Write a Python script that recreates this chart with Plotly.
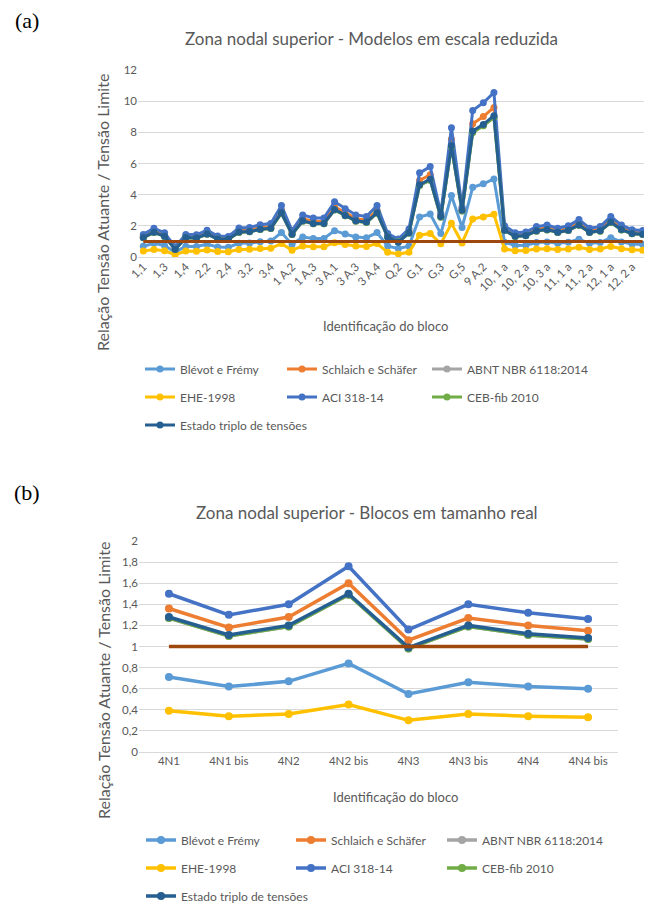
import plotly.graph_objects as go

# ---------------- data: (a) reduced-scale models ----------------
blocks_a = [
    "1,1", "1,2", "1,3", "1,3 b", "1,4", "2,1", "2,2", "2,3", "2,4", "3,1",
    "3,2", "3,3", "3,4", "1 A,1", "1 A,2", "1 A,2 b", "1 A,3", "1 A,4", "3 A,1", "3 A,2",
    "3 A,3", "3 A,3 b", "3 A,4", "Q,1", "Q,2", "Q,3", "G,1", "G,2", "G,3", "G,4",
    "G,5", "9 A,1", "9 A,2", "9 A,3", "10, 1 a", "10, 1 b", "10, 2 a", "10, 2 b", "10, 3 a", "10, 3 b",
    "11, 1 a", "11, 1 b", "11, 2 a", "11, 2 b", "12, 1 a", "12, 1 b", "12, 2 a", "12, 2 b",
]
blevot_a = [0.69, 0.88, 0.74, 0.31, 0.69, 0.67, 0.82, 0.64, 0.63, 0.88,
            0.90, 0.98, 1.02, 1.57, 0.81, 1.28, 1.19, 1.19, 1.69, 1.47,
            1.28, 1.24, 1.57, 0.70, 0.55, 0.70, 2.57, 2.76, 1.50, 3.94,
            1.90, 4.47, 4.70, 5.01, 0.95, 0.74, 0.76, 0.93, 0.97, 0.88,
            0.95, 1.14, 0.88, 0.93, 1.24, 0.97, 0.83, 0.81]
schlaich_a = [1.32, 1.68, 1.41, 0.59, 1.32, 1.29, 1.57, 1.23, 1.20, 1.69,
              1.73, 1.88, 1.96, 3.00, 1.55, 2.46, 2.28, 2.28, 3.23, 2.82,
              2.46, 2.37, 3.00, 1.37, 1.05, 1.64, 4.91, 5.28, 2.70, 7.55,
              3.10, 8.55, 9.01, 9.60, 1.82, 1.41, 1.46, 1.77, 1.87, 1.68,
              1.82, 2.18, 1.68, 1.77, 2.37, 1.87, 1.59, 1.55]
abnt_a = [1.23, 1.57, 1.32, 0.50, 1.23, 1.21, 1.46, 1.15, 1.12, 1.58,
          1.62, 1.76, 1.83, 2.81, 1.45, 2.30, 2.13, 2.13, 3.02, 2.64,
          2.30, 2.21, 2.81, 1.28, 0.98, 1.53, 4.59, 4.93, 2.55, 7.06,
          2.95, 7.99, 8.42, 8.97, 1.70, 1.32, 1.36, 1.66, 1.74, 1.57,
          1.70, 2.04, 1.57, 1.66, 2.21, 1.74, 1.49, 1.45]
ehe_a = [0.38, 0.48, 0.40, 0.15, 0.38, 0.37, 0.45, 0.35, 0.34, 0.48,
         0.49, 0.54, 0.56, 0.86, 0.44, 0.70, 0.65, 0.65, 0.92, 0.81,
         0.70, 0.68, 0.86, 0.30, 0.20, 0.30, 1.40, 1.51, 0.85, 2.16,
         0.90, 2.44, 2.57, 2.74, 0.52, 0.40, 0.42, 0.51, 0.53, 0.48,
         0.52, 0.62, 0.48, 0.51, 0.68, 0.53, 0.46, 0.44]
aci_a = [1.45, 1.85, 1.55, 0.65, 1.45, 1.42, 1.72, 1.35, 1.32, 1.86,
         1.90, 2.07, 2.15, 3.30, 1.70, 2.70, 2.50, 2.50, 3.55, 3.10,
         2.70, 2.60, 3.30, 1.50, 1.15, 1.80, 5.40, 5.80, 2.80, 8.30,
         3.20, 9.40, 9.90, 10.55, 2.00, 1.55, 1.60, 1.95, 2.05, 1.85,
         2.00, 2.40, 1.85, 1.95, 2.60, 2.05, 1.75, 1.70]
ceb_a = [1.23, 1.57, 1.32, 0.50, 1.23, 1.21, 1.46, 1.15, 1.12, 1.58,
         1.62, 1.76, 1.83, 2.81, 1.45, 2.30, 2.13, 2.13, 3.02, 2.64,
         2.30, 2.21, 2.81, 1.28, 0.98, 1.53, 4.59, 4.93, 2.55, 7.06,
         2.95, 7.99, 8.42, 8.97, 1.70, 1.32, 1.36, 1.66, 1.74, 1.57,
         1.70, 2.04, 1.57, 1.66, 2.21, 1.74, 1.49, 1.45]
triplo_a = [1.25, 1.59, 1.33, 0.48, 1.25, 1.22, 1.48, 1.16, 1.14, 1.60,
            1.63, 1.78, 1.85, 2.84, 1.46, 2.32, 2.15, 2.15, 3.05, 2.67,
            2.32, 2.24, 2.84, 1.29, 0.95, 1.55, 4.64, 4.99, 2.60, 7.14,
            3.00, 8.08, 8.51, 9.07, 1.72, 1.33, 1.38, 1.68, 1.76, 1.59,
            1.72, 2.06, 1.59, 1.68, 2.24, 1.76, 1.51, 1.46]

# ---------------- data: (b) full-size blocks ----------------
blocks_b = ["4N1", "4N1 bis", "4N2", "4N2 bis", "4N3", "4N3 bis", "4N4", "4N4 bis"]
blevot_b = [0.71, 0.62, 0.67, 0.84, 0.55, 0.66, 0.62, 0.60]
schlaich_b = [1.36, 1.18, 1.28, 1.60, 1.06, 1.27, 1.20, 1.15]
abnt_b = [1.27, 1.10, 1.19, 1.49, 0.98, 1.19, 1.11, 1.07]
ehe_b = [0.39, 0.34, 0.36, 0.45, 0.30, 0.36, 0.34, 0.33]
aci_b = [1.50, 1.30, 1.40, 1.76, 1.16, 1.40, 1.32, 1.26]
ceb_b = [1.27, 1.10, 1.19, 1.49, 0.98, 1.19, 1.11, 1.07]
triplo_b = [1.28, 1.11, 1.20, 1.50, 0.99, 1.20, 1.12, 1.08]

limit_value = 1.0

series_names = ["Blévot e Frémy", "Schlaich e Schäfer", "ABNT NBR 6118:2014",
                "EHE-1998", "ACI 318-14", "CEB-fib 2010", "Estado triplo de tensões"]
colors = ["#5B9BD5", "#ED7D31", "#A5A5A5", "#FFC000", "#4472C4", "#70AD47", "#255E91"]
limit_color = "#9E480E"

title_a = "Zona nodal superior - Modelos em escala reduzida"
title_b = "Zona nodal superior - Blocos em tamanho real"
ytitle = "Relação Tensão Atuante / Tensão Limite"
xtitle = "Identificação do bloco"

# ---------------- layout helpers ----------------
W, H = 652, 912
PAGE_OFFSET = 8   # default body margin of the html page


def fx(px):
    return (px - PAGE_OFFSET) / W


def fy(py):
    return 1 - (py - PAGE_OFFSET) / H


FONT = "Lato"
GREY = "#595959"

fig = go.Figure()

series_a = [blevot_a, schlaich_a, abnt_a, ehe_a, aci_a, ceb_a, triplo_a]
series_b = [blevot_b, schlaich_b, abnt_b, ehe_b, aci_b, ceb_b, triplo_b]

# legend grid (text start x, row centre y) for each chart
leg_cols_a = [178, 320, 465]
leg_rows_a = [369, 397, 425]
leg_cols_b = [179, 329, 480]
leg_rows_b = [840, 868, 896]

legend_layout = {}


def legend_id(n):
    return "legend" if n == 1 else "legend%d" % n


def add_legend(n, text_x, row_y):
    legend_layout[legend_id(n)] = dict(
        orientation="v", xref="container", yref="container",
        x=fx(text_x - 38), y=fy(row_y), xanchor="left", yanchor="middle",
        font=dict(family=FONT, size=12, color=GREY),
        bgcolor="rgba(0,0,0,0)", borderwidth=0,
        itemclick=False, itemdoubleclick=False)


n = 1
for i, (name, vals) in enumerate(zip(series_names, series_a)):
    add_legend(n, leg_cols_a[i % 3], leg_rows_a[i // 3])
    fig.add_trace(go.Scatter(
        x=blocks_a, y=vals, name=name, mode="lines+markers",
        line=dict(color=colors[i], width=3),
        marker=dict(color=colors[i], size=7),
        xaxis="x", yaxis="y", legend=legend_id(n),
    ))
    n += 1
fig.add_trace(go.Scatter(
    x=[blocks_a[0], blocks_a[-1]], y=[limit_value, limit_value], mode="lines",
    line=dict(color=limit_color, width=3), showlegend=False, xaxis="x", yaxis="y",
))

for i, (name, vals) in enumerate(zip(series_names, series_b)):
    add_legend(n, leg_cols_b[i % 3], leg_rows_b[i // 3])
    fig.add_trace(go.Scatter(
        x=blocks_b, y=vals, name=name, mode="lines+markers",
        line=dict(color=colors[i], width=3.5),
        marker=dict(color=colors[i], size=8),
        xaxis="x2", yaxis="y2", legend=legend_id(n),
    ))
    n += 1
fig.add_trace(go.Scatter(
    x=[blocks_b[0], blocks_b[-1]], y=[limit_value, limit_value], mode="lines",
    line=dict(color=limit_color, width=3.5), showlegend=False, xaxis="x2", yaxis="y2",
))

tickfont = dict(family=FONT, size=11.5, color=GREY)
common_y = dict(showline=False, ticks="", gridcolor="#D9D9D9", gridwidth=1,
                zeroline=True, zerolinecolor="#D9D9D9", zerolinewidth=1,
                tickfont=tickfont, fixedrange=True, automargin=False)
common_x = dict(type="category", showline=False, ticks="", showgrid=False,
                zeroline=False, tickfont=tickfont, fixedrange=True, automargin=False)

layout = dict(
    width=W, height=H,
    margin=dict(l=0, r=0, t=0, b=0, pad=0, autoexpand=False),
    paper_bgcolor="white", plot_bgcolor="white",
    separators=", ",
    xaxis=dict(common_x, domain=[fx(138), fx(648)], anchor="y",
               categoryorder="array", categoryarray=blocks_a,
               range=[-0.5, len(blocks_a) - 0.5],
               tickmode="array", tickvals=blocks_a[::2], ticktext=blocks_a[::2],
               tickangle=-45),
    yaxis=dict(common_y, domain=[fy(257), fy(70)], anchor="x", range=[0, 12], dtick=2),
    xaxis2=dict(common_x, domain=[fx(139), fx(618)], anchor="y2",
                categoryorder="array", categoryarray=blocks_b,
                range=[-0.5, len(blocks_b) - 0.5], tickangle=0),
    yaxis2=dict(common_y, domain=[fy(752), fy(541)], anchor="x2", range=[0, 2], dtick=0.2,
                tickformat=".1~f"),
    showlegend=True,
)
layout.update(legend_layout)
fig.update_layout(**layout)


def note(text, x, y, size, family=FONT, color=GREY, angle=0):
    fig.add_annotation(text=text, x=fx(x), y=fy(y), xref="paper", yref="paper",
                       xanchor="center", yanchor="middle", showarrow=False,
                       textangle=angle, font=dict(family=family, size=size, color=color))


note(title_a, 371, 38, 17)
note(title_b, 367, 512, 17)
note(ytitle, 103, 213, 16, angle=-90)
note(ytitle, 103, 681, 16, angle=-90)
note(xtitle, 385, 326, 13)
note(xtitle, 395, 797, 13)
note("(a)", 27, 20, 22, family="Liberation Serif", color="black")
note("(b)", 27, 492, 22, family="Liberation Serif", color="black")

fig.write_html("out.html")
